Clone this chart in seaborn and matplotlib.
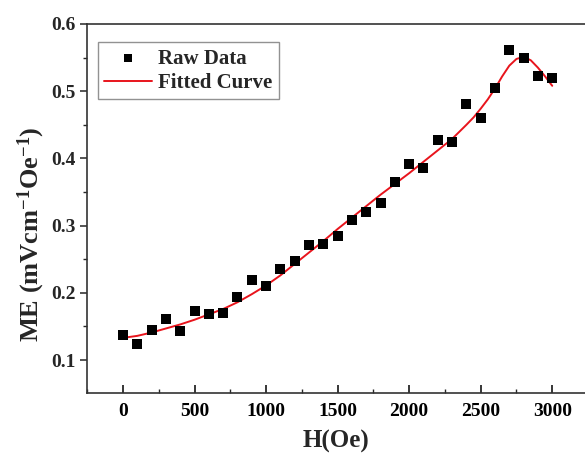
import numpy as np
import pandas as pd
import matplotlib
matplotlib.use("Agg")
import matplotlib.pyplot as plt
from matplotlib.ticker import MultipleLocator
import seaborn as sns

# Measured magnetoelectric coefficient vs. bias field
field = [0, 100, 200, 300, 400, 500, 600, 700, 800, 900, 1000, 1100, 1200, 1300,
         1400, 1500, 1600, 1700, 1800, 1900, 2000, 2100, 2200, 2300, 2400, 2500,
         2600, 2700, 2800, 2900, 3000]
me_raw = [0.137, 0.124, 0.145, 0.161, 0.143, 0.173, 0.169, 0.170, 0.194, 0.219,
          0.210, 0.236, 0.247, 0.271, 0.273, 0.285, 0.308, 0.321, 0.333, 0.365,
          0.392, 0.385, 0.427, 0.424, 0.481, 0.460, 0.505, 0.561, 0.550, 0.523,
          0.520]

# Fitted curve samples
fit_field = [0, 100, 200, 300, 400, 500, 600, 700, 800, 900, 1000, 1100, 1200,
             1300, 1400, 1500, 1600, 1700, 1800, 1900, 2000, 2100, 2200, 2300,
             2400, 2450, 2500, 2550, 2600, 2650, 2700, 2750, 2800, 2850, 2900,
             2950, 3000]
fit_me = [0.133, 0.136, 0.141, 0.147, 0.153, 0.160, 0.168, 0.176, 0.186, 0.198,
          0.211, 0.226, 0.243, 0.260, 0.277, 0.295, 0.312, 0.329, 0.346, 0.362,
          0.378, 0.395, 0.412, 0.429, 0.450, 0.461, 0.474, 0.488, 0.504, 0.522,
          0.538, 0.548, 0.551, 0.546, 0.535, 0.522, 0.508]

x_ticks = [0, 500, 1000, 1500, 2000, 2500, 3000]
y_ticks = [0.1, 0.2, 0.3, 0.4, 0.5, 0.6]

raw_df = pd.DataFrame({"H": field, "ME": me_raw})
fit_df = pd.DataFrame({"H": fit_field, "ME": fit_me})

sns.set_style("ticks")
plt.rcParams["font.family"] = ["Liberation Serif", "DejaVu Serif"]
plt.rcParams["font.weight"] = "bold"
plt.rcParams["mathtext.fontset"] = "custom"
plt.rcParams["mathtext.rm"] = "Liberation Serif:bold"
plt.rcParams["mathtext.it"] = "Liberation Serif:bold"
plt.rcParams["mathtext.bf"] = "Liberation Serif:bold"

fig = plt.figure(figsize=(5.85, 4.55), dpi=100)
ax = fig.add_axes([0.1487, 0.1363, 0.8513, 0.811])

sns.scatterplot(data=raw_df, x="H", y="ME", ax=ax, marker="s", s=52,
                color="black", edgecolor="black", linewidth=0, label="Raw Data",
                zorder=3)
sns.lineplot(data=fit_df, x="H", y="ME", ax=ax, color="#e8141c", linewidth=1.4,
             label="Fitted Curve", zorder=2, sort=True)

ax.set_xlim(-252, 3229)
ax.set_ylim(0.051, 0.6)
ax.set_xticks(x_ticks)
ax.set_yticks(y_ticks)
ax.set_xticklabels([str(v) for v in x_ticks], fontsize=14, fontweight="bold")
ax.set_yticklabels([f"{v:.1f}" for v in y_ticks], fontsize=14, fontweight="bold")
ax.xaxis.set_minor_locator(MultipleLocator(250))
ax.yaxis.set_minor_locator(MultipleLocator(0.05))

ax.tick_params(axis="x", which="major", direction="in", length=6, width=1.1,
               pad=7, colors="black")
ax.tick_params(axis="x", which="minor", direction="in", length=3, width=1.0)
ax.tick_params(axis="y", which="major", direction="out", length=5, width=1.1,
               pad=3)
ax.tick_params(axis="y", which="minor", direction="out", length=3, width=1.0)

for side in ["left", "bottom", "top"]:
    ax.spines[side].set_color("#333333")
    ax.spines[side].set_linewidth(1.2)
ax.spines["right"].set_visible(False)

ax.set_xlabel("H(Oe)", fontsize=18, fontweight="bold", labelpad=7)
ax.set_ylabel("ME (mVcm$^{-1}$Oe$^{-1}$)", fontsize=19, fontweight="bold")
ax.yaxis.set_label_coords(-0.08, 0.43)

leg = ax.legend(loc="upper left", bbox_to_anchor=(0.022, 0.95),
                borderaxespad=0, frameon=True, fancybox=False,
                edgecolor="#777777", fontsize=15, handlelength=2.3,
                handletextpad=0.3, borderpad=0.3, labelspacing=0.2,
                markerscale=0.75)
leg.get_frame().set_linewidth(1.0)
for t in leg.get_texts():
    t.set_fontweight("bold")

fig.savefig("out.png", dpi=100, facecolor="white")
